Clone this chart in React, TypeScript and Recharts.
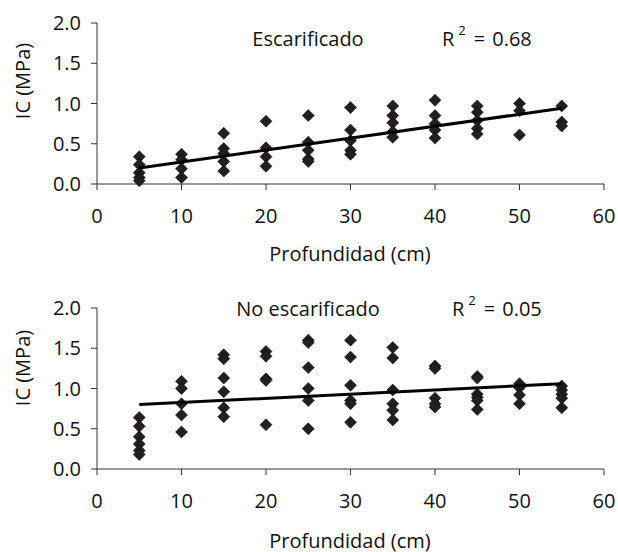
import React from "react";
import { ScatterChart, Scatter, XAxis, YAxis } from "recharts";

const DEPTHS = [5, 10, 15, 20, 25, 30, 35, 40, 45, 50, 55];

// IC readings per depth, escarificado
const ESC_VALUES = [
  [0.34, 0.24, 0.14, 0.08, 0.04],
  [0.37, 0.3, 0.19, 0.08],
  [0.63, 0.44, 0.38, 0.28, 0.16],
  [0.78, 0.45, 0.34, 0.22],
  [0.85, 0.52, 0.42, 0.31, 0.28],
  [0.95, 0.67, 0.54, 0.42, 0.37],
  [0.97, 0.85, 0.76, 0.65, 0.58],
  [1.04, 0.85, 0.75, 0.67, 0.57],
  [0.97, 0.89, 0.79, 0.69, 0.62],
  [1.0, 0.91, 0.61],
  [0.97, 0.77, 0.72],
];

// IC readings per depth, no escarificado
const NOESC_VALUES = [
  [0.64, 0.53, 0.4, 0.31, 0.23, 0.18],
  [1.09, 1.0, 0.81, 0.67, 0.46],
  [1.42, 1.37, 1.13, 0.96, 0.76, 0.65],
  [1.46, 1.4, 1.12, 1.1, 0.55],
  [1.6, 1.57, 1.26, 1.0, 0.85, 0.5],
  [1.6, 1.39, 1.04, 0.85, 0.81, 0.58],
  [1.51, 1.38, 0.98, 0.81, 0.73, 0.61],
  [1.28, 1.25, 0.88, 0.81, 0.77],
  [1.15, 1.13, 0.93, 0.89, 0.85, 0.74],
  [1.06, 1.01, 0.92, 0.81],
  [1.03, 0.98, 0.93, 0.88, 0.76],
];

const TREND_X = [5, 55];
const ESC_TREND = [0.2, 0.94];
const NOESC_TREND = [0.8, 1.06];

const X_TICKS = [0, 10, 20, 30, 40, 50, 60];
const Y_TICKS = [0, 0.5, 1, 1.5, 2];

const FONT = "'Open Sans', sans-serif";
const FS = 20;
const INK = "#231f20";

const toPoints = (values: number[][]) =>
  DEPTHS.flatMap((d, i) => values[i].map((v) => ({ x: d, y: v })));

const toTrend = (ys: number[]) => TREND_X.map((x, i) => ({ x, y: ys[i] }));

function Diamond(props: any) {
  const { cx, cy } = props;
  if (cx == null || cy == null) return <g />;
  const r = 6;
  return (
    <polygon
      points={`${cx},${cy - r} ${cx + r},${cy} ${cx},${cy + r} ${cx - r},${cy}`}
      fill={INK}
      stroke="#000"
      strokeWidth={0.5}
    />
  );
}

function Panel({ values, trend, top, marginTop }: { values: number[][]; trend: number[]; top: number; marginTop: number }) {
  return (
    <div style={{ position: "absolute", left: 0, top }}>
      <ScatterChart width={618} height={276} margin={{ top: marginTop, right: 14, bottom: 276 - marginTop - 161 - 30, left: 37 }}>
        <XAxis
          type="number"
          dataKey="x"
          domain={[0, 60]}
          ticks={X_TICKS}
          height={30}
          tickSize={6}
          tickMargin={19}
          stroke="#333"
          tick={{ fill: "#111", fontSize: FS, fontFamily: FONT }}
        />
        <YAxis
          type="number"
          dataKey="y"
          domain={[0, 2]}
          ticks={Y_TICKS}
          width={60}
          tickSize={6}
          tickMargin={10}
          stroke="#333"
          tickFormatter={(v: number) => v.toFixed(1)}
          tick={{ fill: "#111", fontSize: FS, fontFamily: FONT }}
        />
        <Scatter data={toPoints(values)} shape={<Diamond />} isAnimationActive={false} />
        <Scatter
          data={toTrend(trend)}
          shape={() => <g />}
          line={{ stroke: "#000", strokeWidth: 3 }}
          isAnimationActive={false}
        />
      </ScatterChart>
    </div>
  );
}

function R2({ x, y, value }: { x: number; y: number; value: string }) {
  return (
    <text x={x} y={y} fontSize={FS} fontFamily={FONT} fill="#111" dominantBaseline="central">
      R
      <tspan dx={4} dy={-8} fontSize={13}>2</tspan>
      <tspan dx={8} dy={8}>=</tspan>
      <tspan dx={7}>{value}</tspan>
    </text>
  );
}

export default function App() {
  return (
    <div style={{ position: "absolute", left: 0, top: 0, width: 618, height: 552, background: "#fff" }}>
      <Panel values={ESC_VALUES} trend={ESC_TREND} top={0} marginTop={23} />
      <Panel values={NOESC_VALUES} trend={NOESC_TREND} top={276} marginTop={32} />
      <svg width={618} height={552} style={{ position: "absolute", left: 0, top: 0, pointerEvents: "none" }}>
        <g fontFamily={FONT} fontSize={FS} fill="#111">
          <text x={22} y={81} transform="rotate(-90 22 81)" textAnchor="middle" dominantBaseline="central">
            IC (MPa)
          </text>
          <text x={22} y={368} transform="rotate(-90 22 368)" textAnchor="middle" dominantBaseline="central">
            IC (MPa)
          </text>
          <text x={350} y={253} textAnchor="middle" dominantBaseline="central">Profundidad (cm)</text>
          <text x={350} y={540} textAnchor="middle" dominantBaseline="central">Profundidad (cm)</text>
          <text x={308} y={38} textAnchor="middle" dominantBaseline="central">Escarificado</text>
          <text x={308} y={308} textAnchor="middle" dominantBaseline="central">No escarificado</text>
        </g>
        <R2 x={442} y={38} value="0.68" />
        <R2 x={452} y={308} value="0.05" />
      </svg>
    </div>
  );
}
